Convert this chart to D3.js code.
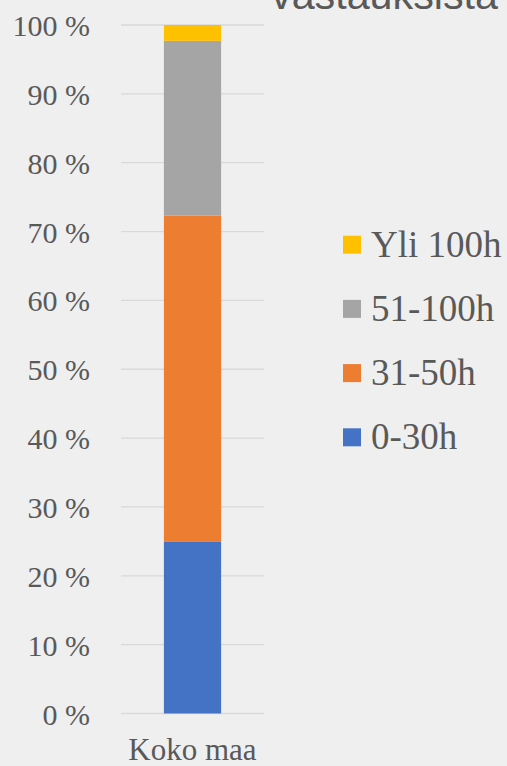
<!DOCTYPE html>
<html><head><meta charset="utf-8">
<script src="https://cdn.jsdelivr.net/npm/d3@7"></script>
</head><body style="margin:0;background:#efefef">
<svg id="c" width="507" height="766" font-family="Liberation Serif"></svg>
<script>
const categories = ["Koko maa"];
const seriesNames = ["0-30h", "31-50h", "51-100h", "Yli 100h"];
const seriesColors = ["#4472c4", "#ed7d31", "#a5a5a5", "#ffc000"];
const values0_30 = [25.0];
const values31_50 = [47.3];
const values51_100 = [25.4];
const valuesYli100 = [2.3];
const tickValues = [0, 10, 20, 30, 40, 50, 60, 70, 80, 90, 100];
const tickLabels = ["0 %", "10 %", "20 %", "30 %", "40 %", "50 %", "60 %", "70 %", "80 %", "90 %", "100 %"];
const titleText = "vastauksista";

const svg = d3.select("#c");
svg.append("rect").attr("width", 507).attr("height", 766).attr("fill", "#efefef");

const y = d3.scaleLinear().domain([0, 100]).range([713.5, 25]);
const x = d3.scaleBand().domain(categories).range([121, 264]).paddingInner(0.6).paddingOuter(0.3);

const textColor = "#595959";

// gridlines
svg.append("g").selectAll("line").data(tickValues).join("line")
  .attr("x1", 121).attr("x2", 264)
  .attr("y1", d => y(d)).attr("y2", d => y(d))
  .attr("stroke", "#d9d9d9").attr("stroke-width", 1.3);

// stacked bars
const rows = categories.map((c, i) => ({cat: c, "0-30h": values0_30[i], "31-50h": values31_50[i], "51-100h": values51_100[i], "Yli 100h": valuesYli100[i]}));
const stack = d3.stack().keys(seriesNames)(rows);
svg.append("g").selectAll("g").data(stack).join("g")
  .attr("fill", (d, i) => seriesColors[i])
  .selectAll("rect").data(d => d).join("rect")
  .attr("x", d => x(d.data.cat)).attr("width", x.bandwidth())
  .attr("y", d => y(d[1])).attr("height", d => y(d[0]) - y(d[1]));

// y tick labels (positions from the scale)
svg.selectAll("text.ytick").data(tickValues).join("text")
  .attr("class", "ytick")
  .attr("x", 90).attr("y", d => y(d) + 11)
  .attr("text-anchor", "end")
  .style("font-family", '"Liberation Serif"').style("font-size", "30px")
  .attr("fill", textColor).text((d, i) => tickLabels[i]);

// category labels
svg.selectAll("text.xtick").data(categories).join("text")
  .attr("class", "xtick")
  .attr("x", d => x(d) + x.bandwidth() / 2).attr("y", 760)
  .attr("text-anchor", "middle")
  .style("font-family", '"Liberation Serif"').style("font-size", "31px")
  .attr("fill", textColor).text(d => d);

// legend
const legendOrder = [3, 2, 1, 0];
svg.selectAll("rect.lg").data(legendOrder).join("rect")
  .attr("class", "lg")
  .attr("x", 343).attr("y", (d, i) => 235.7 + i * 64.2).attr("width", 18).attr("height", 18)
  .attr("fill", d => seriesColors[d]);
svg.selectAll("text.lg").data(legendOrder).join("text")
  .attr("class", "lg")
  .attr("x", 371).attr("y", (d, i) => 256.7 + i * 64.2)
  .style("font-family", '"Liberation Serif"').style("font-size", "37px")
  .attr("fill", textColor).text(d => seriesNames[d]);

// title (partially cut off at the top, as in the source)
svg.append("text").attr("x", 271).attr("y", 9).style("font-family", '"Liberation Sans"')
  .style("font-size", "40px").attr("fill", textColor).attr("textLength", 227).attr("lengthAdjust", "spacingAndGlyphs")
  .text(titleText);
</script>
</body></html>
